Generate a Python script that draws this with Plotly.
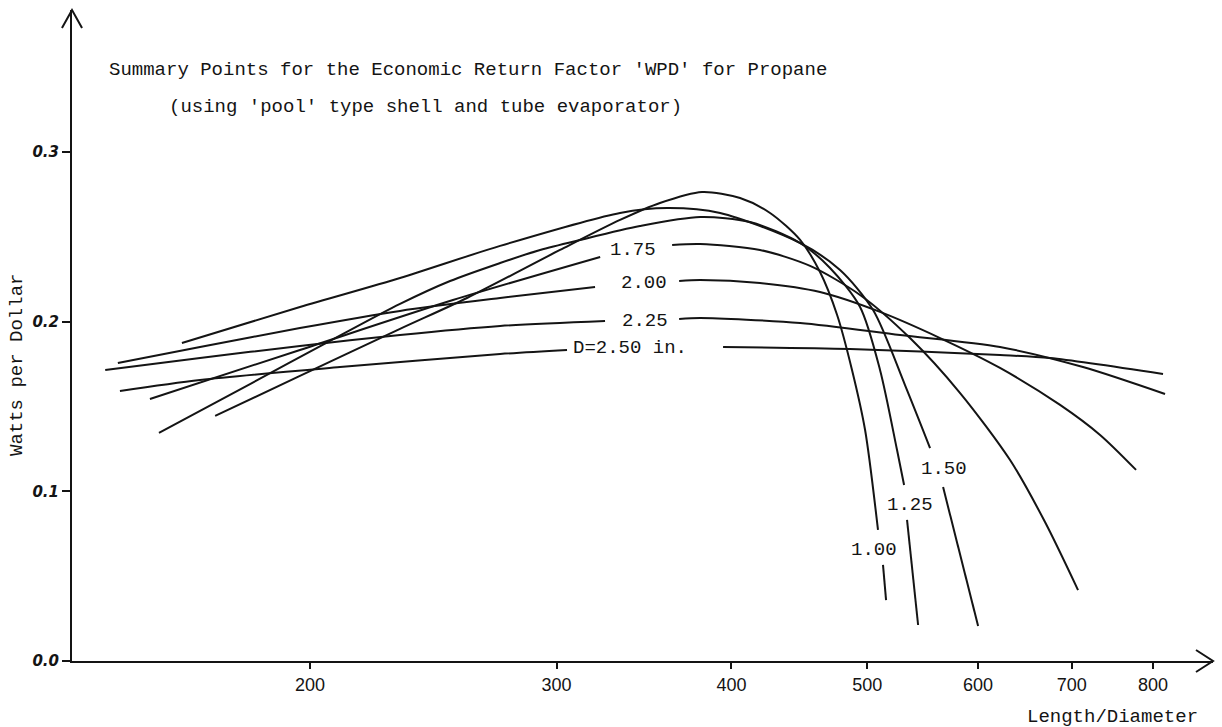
import math
import plotly.graph_objects as go

# ---- data (Length/Diameter vs Watts per Dollar) ----
diameters = ["1.00", "1.25", "1.50", "1.75", "2.00", "2.25", "2.50"]

ld_100 = [171.1, 196.7, 231.9, 258.9, 301.7, 333.0, 355.6, 381.1, 405.7, 426.2, 447.8, 462.7, 475.9, 487.7, 498.3, 509.0, None, 513.2, 515.8]
wpd_100 = [0.1444, 0.1680, 0.1957, 0.2139, 0.2422, 0.2599, 0.2699, 0.2764, 0.2728, 0.2640, 0.2481, 0.2292, 0.2039, 0.1715, 0.1361, 0.0772, None, 0.0566, 0.0359]

ld_125 = [156.0, 181.2, 206.7, 231.9, 251.8, 273.4, 292.0, 311.8, 344.1, 379.9, 412.4, 447.8, 470.4, 494.2, 510.7, 525.2, 531.3, None, 533.9, 543.7]
wpd_125 = [0.1344, 0.1632, 0.1886, 0.2104, 0.2239, 0.2345, 0.2422, 0.2481, 0.2563, 0.2616, 0.2587, 0.2463, 0.2316, 0.2086, 0.1715, 0.1243, 0.1037, None, 0.0831, 0.0212]

ld_150 = [162.0, 196.7, 231.9, 273.4, 333.0, 359.8, 392.6, 447.8, 478.2, 504.9, 532.1, 554.5, None, 566.5, 600.1]
wpd_150 = [0.1874, 0.2086, 0.2257, 0.2446, 0.2640, 0.2669, 0.2640, 0.2463, 0.2304, 0.2068, 0.1626, 0.1255, None, 0.1025, 0.0206]

ld_175 = [153.7, 196.7, 253.0, 322.3, None, 362.8, 379.9, 419.2, 455.2, 494.2, 536.5, 582.6, 632.5, 669.9, 707.3]
wpd_175 = [0.1544, 0.1833, 0.2127, 0.2381, None, 0.2451, 0.2457, 0.2422, 0.2328, 0.2157, 0.1903, 0.1579, 0.1184, 0.0819, 0.0418]

ld_200 = [145.8, 166.9, 196.7, 231.9, 273.4, 319.6, None, 367.0, 379.9, 419.2, 462.7, 510.7, 563.7, 622.1, 686.7, 733.4, 778.1]
wpd_200 = [0.1756, 0.1850, 0.1962, 0.2063, 0.2139, 0.2204, None, 0.2239, 0.2245, 0.2227, 0.2174, 0.2057, 0.1903, 0.1727, 0.1509, 0.1332, 0.1126]

ld_225 = [142.8, 166.9, 196.7, 231.9, 273.4, 324.9, None, 367.0, 379.9, 447.8, 527.8, 622.1, 713.1, 816.1]
wpd_225 = [0.1715, 0.1786, 0.1856, 0.1921, 0.1974, 0.2004, None, 0.2015, 0.2021, 0.1992, 0.1921, 0.1850, 0.1732, 0.1573]

ld_250 = [146.3, 166.9, 210.1, 273.4, 305.2, None, 394.5, 486.1, 622.1, 675.5, 813.4]
wpd_250 = [0.1591, 0.1656, 0.1732, 0.1809, 0.1833, None, 0.1850, 0.1838, 0.1803, 0.1785, 0.1691]

curve_ld = [ld_100, ld_125, ld_150, ld_175, ld_200, ld_225, ld_250]
curve_wpd = [wpd_100, wpd_125, wpd_150, wpd_175, wpd_200, wpd_225, wpd_250]

label_text = ["1.00", "1.25", "1.50", "1.75", "2.00", "2.25", "D=2.50 in."]
label_ld = [505.7, 536.5, 567.4, 340.2, 346.4, 347.0, 338.5]
label_wpd = [0.0654, 0.0919, 0.1131, 0.2422, 0.2227, 0.2004, 0.1844]

x_ticks = [200, 300, 400, 500, 600, 700, 800]
y_ticks = [0.0, 0.1, 0.2, 0.3]
y_tick_text = ["0.0", "0.1", "0.2", "0.3"]

title_line1 = "Summary Points for the Economic Return Factor 'WPD' for Propane"
title_line2 = "(using 'pool' type shell and tube evaporator)"
x_title = "Length/Diameter"
y_title = "Watts per Dollar"

# ---- figure ----
MONO = "Liberation Mono"
INK = "#141414"

fig = go.Figure()
for d, xs, ys in zip(diameters, curve_ld, curve_wpd):
    fig.add_trace(go.Scatter(
        x=xs, y=ys, mode="lines", name="D=" + d,
        line=dict(color=INK, width=2, shape="spline", smoothing=0.8),
        connectgaps=False, hoverinfo="skip", showlegend=False,
    ))

# curve labels (annotation x on a log axis is given as log10 of the value)
for t, x, y in zip(label_text, label_ld, label_wpd):
    fig.add_annotation(x=math.log10(x), y=y, xref="x", yref="y", text=t, showarrow=False,
                       font=dict(family=MONO, size=19, color=INK),
                       xanchor="center", yanchor="middle")

fig.add_annotation(x=0.0307, y=0.9078, xref="paper", yref="paper", text=title_line1,
                   showarrow=False, xanchor="left", yanchor="middle",
                   font=dict(family=MONO, size=19, color=INK))
fig.add_annotation(x=0.0833, y=0.851, xref="paper", yref="paper", text=title_line2,
                   showarrow=False, xanchor="left", yanchor="middle",
                   font=dict(family=MONO, size=19, color=INK))
fig.add_annotation(x=-0.0482, y=0.4547, xref="paper", yref="paper", text=y_title,
                   showarrow=False, textangle=-90, xanchor="center", yanchor="middle",
                   font=dict(family=MONO, size=19, color=INK))
fig.add_annotation(x=0.9115, y=-0.086, xref="paper", yref="paper", text=x_title,
                   showarrow=False, xanchor="center", yanchor="middle",
                   font=dict(family=MONO, size=19, color=INK))

# arrow heads on the axes
fig.add_shape(type="path", xref="paper", yref="paper",
              path="M -0.0088,0.9724 L 0,1 L 0.0088,0.9724",
              line=dict(color=INK, width=2))
fig.add_shape(type="path", xref="paper", yref="paper",
              path="M 0.9851,0.0169 L 1,0 L 0.9851,-0.0169",
              line=dict(color=INK, width=2))

fig.update_xaxes(type="log", range=[2.1310, 2.9460],
                 showline=True, linecolor=INK, linewidth=2,
                 showgrid=False, zeroline=False,
                 tickmode="array", tickvals=x_ticks, ticktext=[str(v) for v in x_ticks],
                 ticks="outside", ticklen=6, tickwidth=1.5, tickcolor=INK,
                 tickfont=dict(family="Liberation Sans", size=18, color=INK))
fig.update_yaxes(range=[0, 0.3836],
                 showline=True, linecolor=INK, linewidth=2,
                 showgrid=False, zeroline=False,
                 tickmode="array", tickvals=y_ticks, ticktext=y_tick_text,
                 ticks="outside", ticklen=8, tickwidth=2, tickcolor=INK,
                 tickfont=dict(family="DejaVu Sans", size=15, color=INK,
                               weight="bold", style="italic"))

fig.update_layout(width=1222, height=727,
                  margin=dict(l=72, r=9, t=10, b=66),
                  paper_bgcolor="white", plot_bgcolor="white",
                  showlegend=False)

fig.write_html("out.html")
